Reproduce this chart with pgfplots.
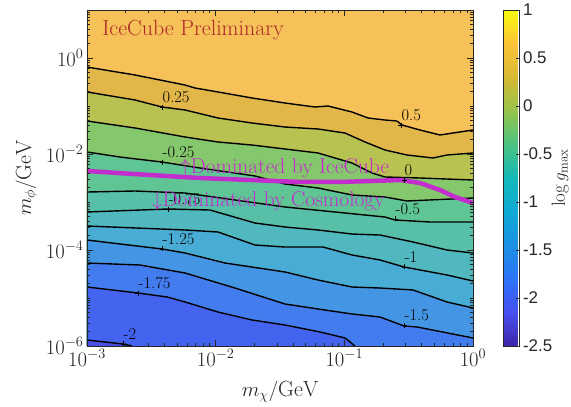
\documentclass[border=0pt]{standalone}
\usepackage{pgfplots}
\pgfplotsset{compat=1.18}
\usepackage{pgfplotstable}
\usepackage{fontspec}
\newfontfamily\cbfont{Liberation Sans}

% band colours (band just below each contour level)
\definecolor{cTop}{RGB}{245,193,88}
\definecolor{cB1}{RGB}{226,183,74}
\definecolor{cB2}{RGB}{184,194,80}
\definecolor{cB3}{RGB}{133,199,108}
\definecolor{cB4}{RGB}{96,197,148}
\definecolor{cB5}{RGB}{88,192,168}
\definecolor{cB6}{RGB}{80,184,190}
\definecolor{cB7}{RGB}{72,172,212}
\definecolor{cB8}{RGB}{68,150,228}
\definecolor{cB9}{RGB}{66,124,238}
\definecolor{cB10}{RGB}{68,100,240}
\definecolor{cB11}{RGB}{72,80,226}
\definecolor{axgray}{RGB}{38,38,38}
\definecolor{icred}{RGB}{175,40,40}
\definecolor{magc}{RGB}{195,45,205}

% contour lines, log10(m_chi) vs log10(m_phi)
% level 0.5
\pgfplotstableread{
x y
-3 -0.188
-2.627 -0.354
-2.238 -0.563
-2.161 -0.625
-1.982 -0.708
-1.718 -0.833
-1.461 -0.938
-1.228 -1.021
-1.127 -1.0
-0.940 -1.125
-0.816 -1.25
-0.684 -1.292
-0.591 -1.313
-0.552 -1.396
-0.412 -1.5
-0.257 -1.604
-0.156 -1.563
0 -1.5
}\lvA
% level 0.25
\pgfplotstableread{
x y
-3 -0.708
-2.627 -0.875
-2.417 -1.021
-2.238 -1.083
-1.982 -1.25
-1.718 -1.354
-1.461 -1.438
-1.205 -1.479
-0.995 -1.563
-0.839 -1.75
-0.684 -1.917
-0.513 -2.021
-0.311 -2.083
-0.202 -2.021
0 -1.979
}\lvB
% level 0
\pgfplotstableread{
x y
-3 -1.313
-2.627 -1.458
-2.238 -1.646
-1.982 -1.75
-1.718 -1.813
-1.461 -1.896
-1.205 -1.979
-0.940 -2.188
-0.785 -2.396
-0.684 -2.479
-0.412 -2.5
0 -2.542
}\lvC
% level -0.25
\pgfplotstableread{
x y
-3 -1.958
-2.744 -2.063
-2.417 -2.167
-2.122 -2.292
-1.694 -2.458
-1.461 -2.625
-1.205 -2.708
-0.940 -2.854
-0.684 -2.896
-0.513 -2.979
0 -2.917
}\lvD
% level -0.5
\pgfplotstableread{
x y
-3 -2.792
-2.627 -2.771
-2.238 -2.813
-1.850 -2.958
-1.461 -3.104
-1.073 -3.208
-0.684 -3.313
-0.606 -3.375
-0.334 -3.417
0 -3.417
}\lvE
% level -0.75
\pgfplotstableread{
x y
-3 -3.208
-2.370 -3.146
-2.044 -3.167
-1.694 -3.438
-1.461 -3.521
-1.205 -3.583
-0.940 -3.667
-0.723 -3.688
-0.466 -3.833
-0.202 -4.0
0 -4.063
}\lvF
% level -1
\pgfplotstableread{
x y
-3 -3.5
-2.238 -3.583
-1.982 -3.625
-1.694 -3.896
-1.461 -3.938
-1.166 -3.938
-0.940 -4.104
-0.723 -4.208
-0.536 -4.354
-0.202 -4.521
0 -4.646
}\lvG
% level -1.25
\pgfplotstableread{
x y
-3 -3.792
-2.417 -3.979
-2.238 -4.063
-1.928 -4.271
-1.461 -4.458
-1.205 -4.625
-0.940 -4.771
-0.723 -4.792
-0.466 -4.833
-0.202 -5.083
0 -5.208
}\lvH
% level -1.5
\pgfplotstableread{
x y
-3 -4.271
-2.588 -4.313
-2.238 -4.479
-1.850 -4.792
-1.461 -5.125
-1.205 -5.229
-0.940 -5.333
-0.723 -5.396
-0.536 -5.583
-0.435 -5.604
0 -5.833
}\lvI
% level -1.75
\pgfplotstableread{
x y
-3 -4.771
-2.604 -4.896
-2.378 -4.979
-2.238 -5.083
-1.982 -5.292
-1.718 -5.458
-1.461 -5.563
-1.189 -5.708
-0.995 -5.833
-0.917 -6
}\lvJ
% level -2
\pgfplotstableread{
x y
-3 -5.875
-2.720 -5.958
-2.650 -6
}\lvK
% IceCube / cosmology boundary
\pgfplotstableread{
x y
-3 -2.354
-2.510 -2.438
-2.122 -2.5
-1.345 -2.583
-1.034 -2.583
-0.567 -2.542
-0.412 -2.604
-0.257 -2.75
-0.140 -2.896
0 -3.021
}\bound

\begin{document}
\begin{tikzpicture}
\begin{axis}[
    name=ax,
    scale only axis,
    width=386bp, height=336bp,
    xmin=-3, xmax=0, ymin=-6, ymax=1,
    axis background/.style={fill=cTop},
    axis on top,
    xtick={-3,-2,-1,0},
    xticklabels={$10^{-3}$,$10^{-2}$,$10^{-1}$,$10^{0}$},
    ytick={-6,-4,-2,0},
    yticklabels={$10^{-6}$,$10^{-4}$,$10^{-2}$,$10^{0}$},
    minor xtick={-2.699,-2.523,-2.398,-2.301,-2.222,-2.155,-2.097,-2.046,
        -1.699,-1.523,-1.398,-1.301,-1.222,-1.155,-1.097,-1.046,
        -0.699,-0.523,-0.398,-0.301,-0.222,-0.155,-0.097,-0.046},
    minor ytick={-5.699,-5.523,-5.398,-5.301,-5.222,-5.155,-5.097,-5.046,-5,
        -4.699,-4.523,-4.398,-4.301,-4.222,-4.155,-4.097,-4.046,
        -3.699,-3.523,-3.398,-3.301,-3.222,-3.155,-3.097,-3.046,-3,
        -2.699,-2.523,-2.398,-2.301,-2.222,-2.155,-2.097,-2.046,
        -1.699,-1.523,-1.398,-1.301,-1.222,-1.155,-1.097,-1.046,-1,
        -0.699,-0.523,-0.398,-0.301,-0.222,-0.155,-0.097,-0.046,
        0.301,0.477,0.602,0.699,0.778,0.845,0.903,0.954},
    tick align=inside,
    major tick length=6bp, minor tick length=3bp,
    axis line style={draw=axgray, line width=0.8bp},
    every tick/.style={draw=axgray, line width=0.7bp},
    tick label style={font=\fontsize{19.5}{23}\selectfont, text=axgray},
    xlabel={$m_\chi/\mathrm{GeV}$},
    ylabel={$m_\phi/\mathrm{GeV}$},
    label style={font=\fontsize{22}{26}\selectfont, text=axgray},
    xlabel style={at={(axis description cs:0.5,-0.137)}, anchor=center},
    ylabel style={at={(axis description cs:-0.157,0.5)}, anchor=center},
    colormap={parula}{rgb255=(62,38,168) rgb255=(71,80,240) rgb255=(45,115,250)
        rgb255=(28,145,228) rgb255=(16,170,214) rgb255=(20,185,185)
        rgb255=(75,195,130) rgb255=(150,195,75) rgb255=(215,185,50)
        rgb255=(252,195,55) rgb255=(249,251,14)},
    point meta min=-2.5, point meta max=1,
    colorbar,
    colorbar style={
        at={(parent axis.north east)}, anchor=north west, xshift=22bp,
        width=16bp,
        ytick={-2.5,-2,-1.5,-1,-0.5,0,0.5,1},
        yticklabels={-2.5,-2,-1.5,-1,-0.5,0,0.5,1},
        ytick pos=right, yticklabel pos=right,
        tick align=inside, major tick length=4bp,
        axis line style={draw=axgray, line width=0.8bp},
        every tick/.style={draw=axgray, line width=0.7bp},
        yticklabel style={font=\cbfont\fontsize{17}{20}\selectfont, text=axgray},
        ylabel={$\log g_{\max}$},
        every axis y label/.style={at={(axis description cs:3.55,0.5)},
            rotate=90, anchor=center, font=\fontsize{19}{23}\selectfont, text=axgray},
    },
]
% filled bands: fill below each level, highest first
\addplot[fill=cB1, draw=none] table {\lvA} -- (axis cs:0,-6) -- (axis cs:-3,-6) -- cycle;
\addplot[fill=cB2, draw=none] table {\lvB} -- (axis cs:0,-6) -- (axis cs:-3,-6) -- cycle;
\addplot[fill=cB3, draw=none] table {\lvC} -- (axis cs:0,-6) -- (axis cs:-3,-6) -- cycle;
\addplot[fill=cB4, draw=none] table {\lvD} -- (axis cs:0,-6) -- (axis cs:-3,-6) -- cycle;
\addplot[fill=cB5, draw=none] table {\lvE} -- (axis cs:0,-6) -- (axis cs:-3,-6) -- cycle;
\addplot[fill=cB6, draw=none] table {\lvF} -- (axis cs:0,-6) -- (axis cs:-3,-6) -- cycle;
\addplot[fill=cB7, draw=none] table {\lvG} -- (axis cs:0,-6) -- (axis cs:-3,-6) -- cycle;
\addplot[fill=cB8, draw=none] table {\lvH} -- (axis cs:0,-6) -- (axis cs:-3,-6) -- cycle;
\addplot[fill=cB9, draw=none] table {\lvI} -- (axis cs:0,-6) -- (axis cs:-3,-6) -- cycle;
\addplot[fill=cB10, draw=none] table {\lvJ} -- (axis cs:0,-6) -- (axis cs:-3,-6) -- cycle;
\addplot[fill=cB11, draw=none] table {\lvK} -- (axis cs:0,-6) -- (axis cs:-3,-6) -- cycle;

% contour lines
\pgfplotsset{cline/.style={black, line width=1.4bp}}
\addplot[cline] table {\lvA};
\addplot[cline] table {\lvB};
\addplot[cline] table {\lvC};
\addplot[cline] table {\lvD};
\addplot[cline] table {\lvE};
\addplot[cline] table {\lvF};
\addplot[cline] table {\lvG};
\addplot[cline] table {\lvH};
\addplot[cline] table {\lvI};
\addplot[cline] table {\lvJ};
\addplot[cline] table {\lvK};

% label markers
\addplot[only marks, mark=+, mark size=2.5bp, black, mark options={line width=0.8bp}]
  coordinates {(-2.417,-1.021) (-0.560,-1.396) (-2.417,-2.167) (-0.536,-2.542)
    (-0.606,-3.354) (-2.370,-3.146) (-0.536,-4.354) (-2.417,-3.979)
    (-0.536,-5.563) (-2.604,-4.896) (-2.720,-5.958)};

\begin{scope}[every node/.style={anchor=south west, inner sep=0.5pt, yshift=4bp,
    font=\fontsize{16.5}{19}\selectfont, text=black}]
\node at (axis cs:-2.417,-1.021) {0.25};
\node at (axis cs:-0.560,-1.396) {0.5};
\node at (axis cs:-2.417,-2.167) {-0.25};
\node at (axis cs:-0.536,-2.542) {0};
\node at (axis cs:-0.606,-3.354) {-0.5};
\node at (axis cs:-2.370,-3.146) {-0.75};
\node at (axis cs:-0.536,-4.354) {-1};
\node at (axis cs:-2.417,-3.979) {-1.25};
\node at (axis cs:-0.536,-5.563) {-1.5};
\node at (axis cs:-2.604,-4.896) {-1.75};
\node at (axis cs:-2.720,-5.958) {-2};
\end{scope}

% boundary between the two regimes
\addplot[magc, line width=4.5bp] table {\bound};

\node[anchor=base west, inner sep=0, text=magc, font=\fontsize{21.5}{25}\selectfont]
  at (axis cs:-2.277,-2.396) {$\uparrow$Dominated by IceCube};
\node[anchor=base west, inner sep=0, text=magc, font=\fontsize{21.5}{25}\selectfont]
  at (axis cs:-2.495,-3.104) {$\downarrow$Dominated by Cosmology};
\node[anchor=base west, inner sep=0, text=icred, font=\fontsize{22}{26}\selectfont]
  at (axis cs:-2.883,0.479) {IceCube Preliminary};
\end{axis}
\pgfresetboundingbox
\path (ax.south west) ++(-87bp,-61bp) rectangle ++(571bp,407bp);
\end{tikzpicture}
\end{document}
